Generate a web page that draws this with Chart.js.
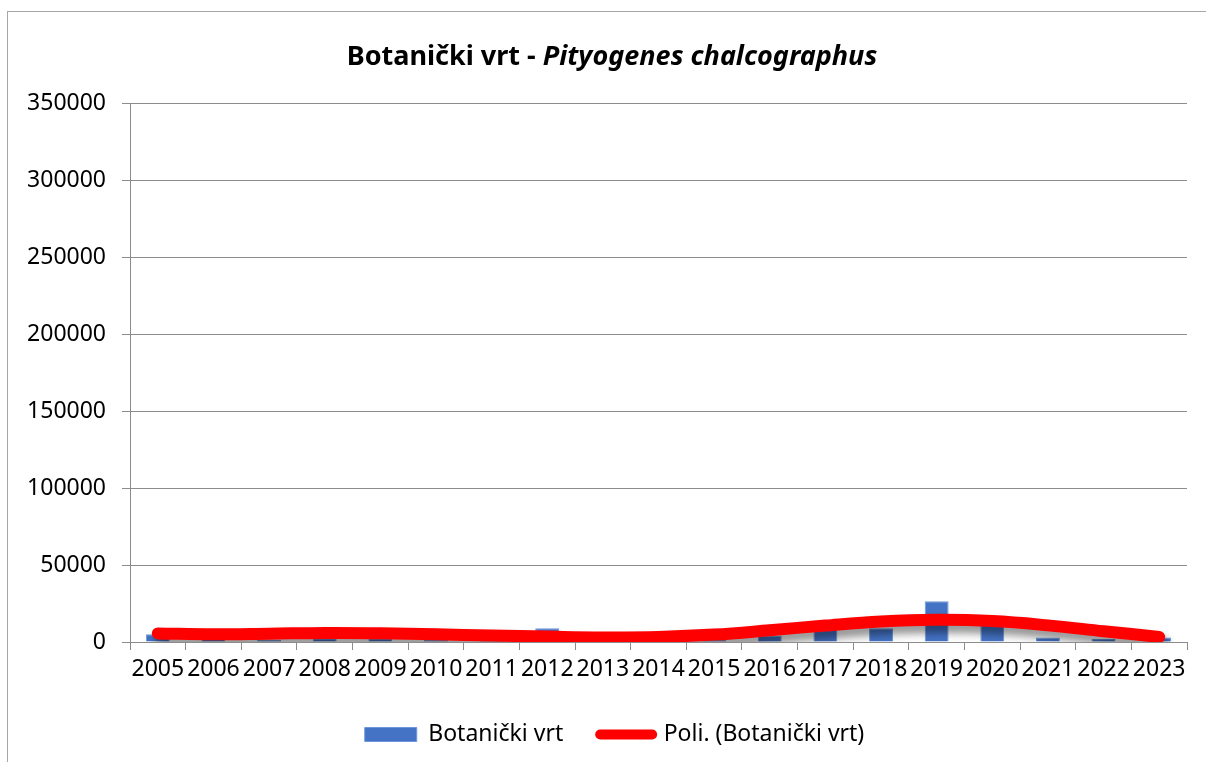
<!DOCTYPE html>
<html>
<head>
<meta charset="utf-8">
<script src="https://cdn.jsdelivr.net/npm/chart.js@4/dist/chart.umd.min.js"></script>
<style>
  html, body { margin: 0; padding: 0; background: #fff; }
  #wrap { position: relative; width: 1206px; height: 762px; overflow: hidden; }
  #frame { position: absolute; left: 7px; top: 11px; width: 1300px; height: 900px; border: 1px solid #a6a6a6; box-sizing: border-box; }
  canvas { position: absolute; left: 0; top: 0; }
</style>
</head>
<body>
<div id="wrap">
  <div id="frame"></div>
  <canvas id="myChart" width="1206" height="762"></canvas>
</div>
<script>
const years = ["2005", "2006", "2007", "2008", "2009", "2010", "2011", "2012", "2013", "2014",
  "2015", "2016", "2017", "2018", "2019", "2020", "2021", "2022", "2023"];
// Botanički vrt - ulov po godinama
const catches = [5000, 2000, 1500, 2500, 2500, 1500, 1000, 9000, 1500, 1000,
  1500, 4000, 12000, 9000, 26500, 15000, 3000, 2000, 3000];
// polinomni trend, očitan sa slike
const trend = [5600, 5000, 5400, 5900, 5700, 5000, 4200, 3500, 3000, 3300,
  4800, 7600, 10700, 13300, 14400, 13600, 10800, 7000, 3300];
const yTicks = [0, 50000, 100000, 150000, 200000, 250000, 300000, 350000];

const FONT = "'Noto Sans', 'Open Sans', sans-serif";
const gridColor = "#8c8c8c";

// sjena ispod crte trenda
const shadowPlugin = {
  id: "trendShadow",
  beforeDatasetDraw(chart, args) {
    if (args.index !== 1) return;
    const c = chart.ctx;
    c.save();
    c.shadowColor = "rgba(0,0,0,0.45)";
    c.shadowBlur = 8;
    c.shadowOffsetX = 3;
    c.shadowOffsetY = 7;
  },
  afterDatasetDraw(chart, args) {
    if (args.index !== 1) return;
    chart.ctx.restore();
  },
};

// naslov s kurzivom za ime vrste
const titlePlugin = {
  id: "mixedTitle",
  afterLayout(chart) {
    // legenda je malo desno od sredine
    chart.legend.left += 21;
    chart.legend.right += 21;
  },
  afterDraw(chart) {
    const c = chart.ctx;
    const part1 = "Botanički vrt - ";
    const part2 = "Pityogenes chalcographus";
    const f1 = "bold 27px " + FONT;
    const f2 = "italic bold 27px " + FONT;
    c.save();
    c.fillStyle = "#000";
    c.textBaseline = "middle";
    c.textAlign = "left";
    c.font = f1;
    const w1 = c.measureText(part1).width;
    c.font = f2;
    const w2 = c.measureText(part2).width;
    const x0 = 612 - (w1 + w2) / 2;
    c.font = f1;
    c.fillText(part1, x0, 57);
    c.font = f2;
    c.fillText(part2, x0 + w1, 57);
    c.restore();
  },
};

const ctx = document.getElementById("myChart");
const myChart = new Chart(ctx, {
  type: "bar",
  data: {
    labels: years,
    datasets: [
      {
        label: "Botanički vrt",
        data: catches,
        backgroundColor: "#4472c4",
        borderColor: "#6d97d9",
        borderWidth: 1,
        categoryPercentage: 1,
        barPercentage: 0.43,
        order: 1,
      },
      {
        type: "line",
        label: "Poli. (Botanički vrt)",
        data: trend,
        borderColor: "#ff0000",
        backgroundColor: "#ff0000",
        borderWidth: 12,
        borderCapStyle: "round",
        tension: 0.4,
        pointRadius: 0,
        fill: false,
        order: 0,
      },
    ],
  },
  options: {
    responsive: false,
    animation: false,
    events: [],
    layout: { padding: { left: 0, right: 19, top: 103, bottom: 6 } },
    plugins: {
      title: { display: false },
      legend: {
        position: "bottom",
        labels: {
          color: "#000",
          font: { family: FONT, size: 23 },
          usePointStyle: true,
          pointStyleWidth: 52,
          boxHeight: 14,
          padding: 37,
          generateLabels() {
            return [
              { text: "Botanički vrt", pointStyle: "rect", fillStyle: "#4472c4",
                strokeStyle: "#6d97d9", lineWidth: 1, datasetIndex: 0, fontColor: "#000" },
              { text: "Poli. (Botanički vrt)", pointStyle: "line", fillStyle: "#ff0000",
                strokeStyle: "#ff0000", lineWidth: 10, lineCap: "round", datasetIndex: 1, fontColor: "#000" },
            ];
          },
        },
      },
      tooltip: { enabled: false },
    },
    scales: {
      x: {
        offset: true,
        grid: { display: true, drawOnChartArea: false, color: gridColor, tickLength: 8, offset: true },
        border: { color: gridColor },
        ticks: { color: "#000", font: { family: FONT, size: 23 }, padding: 6, maxRotation: 0, autoSkip: false },
        afterFit(scale) { scale.height = 44; },
      },
      y: {
        min: 0,
        max: 350000,
        afterBuildTicks(scale) { scale.ticks = yTicks.map((v) => ({ value: v })); },
        grid: { color: gridColor, tickLength: 8 },
        border: { color: gridColor },
        ticks: {
          color: "#000",
          font: { family: FONT, size: 23 },
          padding: 16,
          callback: (v) => String(v),
        },
        afterFit(scale) { scale.width = 130; },
      },
    },
  },
  plugins: [shadowPlugin, titlePlugin],
});
</script>
</body>
</html>
